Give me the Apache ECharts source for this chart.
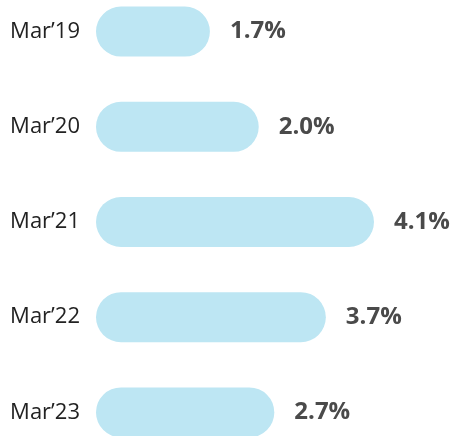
<!DOCTYPE html>
<html>
<head>
<meta charset="utf-8">
<script src="https://cdn.jsdelivr.net/npm/echarts@6/dist/echarts.min.js"></script>
<style>
  html, body { margin: 0; padding: 0; background: #fff; }
  #main { width: 453px; height: 436px; }
</style>
</head>
<body>
<div id="main"></div>
<script>
// periods, top to bottom
var periods = ['Mar’19', 'Mar’20', 'Mar’21', 'Mar’22', 'Mar’23'];
// printed rates
var rateLabels = ['1.7%', '2.0%', '4.1%', '3.7%', '2.7%'];
// bar lengths as drawn in the picture (same % units)
var barValues = [1.68, 2.4, 4.1, 3.39, 2.63];

var chart = echarts.init(document.getElementById('main'));

var option = {
  animation: false,
  grid: {
    left: 96,
    right: 18,
    top: -16,
    height: 476,
    outerBoundsMode: 'none'
  },
  xAxis: {
    type: 'value',
    min: 0,
    max: 5,
    show: false
  },
  yAxis: {
    type: 'category',
    inverse: true,
    data: periods,
    axisLine: { show: false },
    axisTick: { show: false },
    axisLabel: {
      margin: 16,
      color: '#222',
      fontFamily: 'Open Sans',
      fontSize: 22
    }
  },
  series: [{
    type: 'bar',
    data: barValues,
    barWidth: 50,
    itemStyle: {
      color: '#bde6f3',
      borderRadius: 25
    },
    label: {
      show: true,
      position: 'right',
      distance: 20,
      color: '#4a4a4a',
      fontFamily: 'Open Sans',
      fontWeight: 'bold',
      fontSize: 24,
      formatter: function (p) {
        return rateLabels[p.dataIndex];
      }
    }
  }]
};

chart.setOption(option);
</script>
</body>
</html>
